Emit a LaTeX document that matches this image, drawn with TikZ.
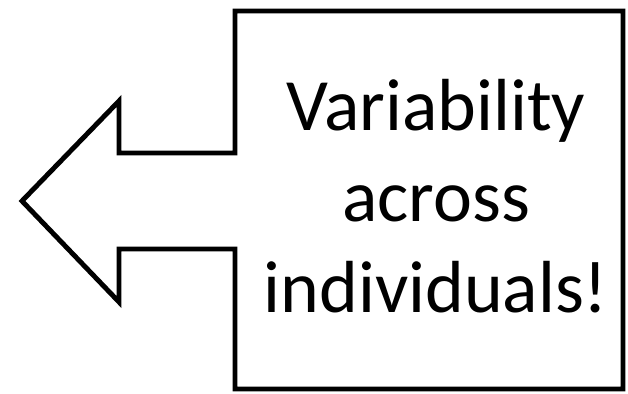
\documentclass[tikz,border=0pt]{standalone}
\usepackage{fontspec}
\setmainfont{Carlito}
\usepackage{tikz}
\usetikzlibrary{positioning}
\tikzset{
  outline/.style={draw=black, line width=2.8pt, line join=miter},
  msg/.style ={align=center, inner sep=0pt, font=\fontsize{42}{51.8}\selectfont},
}

\begin{document}
\begin{tikzpicture}[x=0.02cm,y=-0.02cm]
        \useasboundingbox (0,0) rectangle (628,394);
        % box with the arrow pointing left
        \draw[outline] (235,11) -- (623,11) -- (623,389) -- (235,389) -- (235,249)
          -- (119,249) -- (119,302) -- (22,201) -- (119,101) -- (119,153)
          -- (235,153) -- cycle;
        \node[msg] (note) at (436,196) {Variability\\across\\individuals!};
      \end{tikzpicture}
\end{document}
